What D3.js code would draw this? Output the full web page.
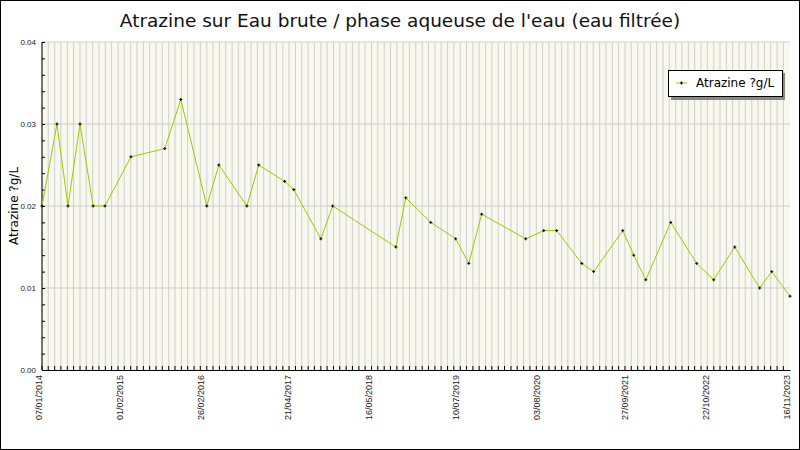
<!DOCTYPE html>
<html><head><meta charset="utf-8">
<script src="https://cdn.jsdelivr.net/npm/d3@7"></script>
<style>body{margin:0;background:#fff}</style>
</head><body>
<div id="chart"></div>
<script>
var w = 800, h = 450;
var m = {left: 42, right: 10, top: 42, bottom: 80};

var dates = ["2014-01-07","2014-03-20","2014-05-12","2014-07-09","2014-09-10","2014-11-06",
  "2015-03-11","2015-08-21","2015-11-06","2016-03-10","2016-05-07","2016-09-19","2016-11-15",
  "2017-03-20","2017-05-03","2017-09-10","2017-11-06","2018-09-06","2018-10-24","2019-02-21",
  "2019-06-21","2019-08-23","2019-10-24","2020-05-23","2020-08-18","2020-10-19","2021-02-17",
  "2021-04-15","2021-09-02","2021-10-25","2021-12-22","2022-04-21","2022-08-24","2022-11-14",
  "2023-02-23","2023-06-23","2023-08-20","2023-11-16"];
var values = [0.020,0.030,0.020,0.030,0.020,0.020,0.026,0.027,0.033,0.020,0.025,0.020,0.025,
  0.023,0.022,0.016,0.020,0.015,0.021,0.018,0.016,0.013,0.019,0.016,0.017,0.017,0.013,
  0.012,0.017,0.014,0.011,0.018,0.013,0.011,0.015,0.010,0.012,0.009];
var tickLabels = ["07/01/2014","01/02/2015","26/02/2016","21/04/2017","16/05/2018",
  "10/07/2019","03/08/2020","27/09/2021","22/10/2022","16/11/2023"];

var parse = d3.timeParse("%Y-%m-%d");
var parseFr = d3.timeParse("%d/%m/%Y");
var data = dates.map(function (d, i) { return {date: parse(d), value: values[i]}; });

var svg = d3.select("#chart").append("svg").attr("width", w).attr("height", h)
  .style("font-family", "DejaVu Sans, sans-serif");

svg.append("rect").attr("x", 0.5).attr("y", 0.5).attr("width", w - 1).attr("height", h - 1)
  .attr("fill", "#fff").attr("stroke", "#000");

var x = d3.scaleTime().domain([parse("2014-01-07"), parse("2023-11-16")])
  .range([m.left, w - m.right]);
var y = d3.scaleLinear().domain([0, 0.04]).range([h - m.bottom, m.top]);

svg.append("rect").attr("x", m.left).attr("y", m.top)
  .attr("width", w - m.right - m.left).attr("height", h - m.bottom - m.top)
  .attr("fill", "#f8f8ee");

// monthly vertical grid
var months = d3.timeMonth.range(x.domain()[0], x.domain()[1]).map(function (d, i) {
  return d3.timeDay.offset(x.domain()[0], i * 30.5);
});
svg.append("g").selectAll("line").data(months).enter().append("line")
  .attr("x1", function (d) { return x(d); }).attr("x2", function (d) { return x(d); })
  .attr("y1", m.top).attr("y2", h - m.bottom)
  .attr("stroke", "#cfcfcf").attr("stroke-width", 1);

svg.append("g").selectAll("line").data([0.01, 0.02, 0.03, 0.04]).enter().append("line")
  .attr("x1", m.left).attr("x2", w - m.right)
  .attr("y1", function (d) { return y(d); }).attr("y2", function (d) { return y(d); })
  .attr("stroke", "#cfcfcf");

// y axis
var yAxis = d3.axisLeft(y).tickValues([0, 0.01, 0.02, 0.03, 0.04]).tickFormat(d3.format(".2f")).tickSize(6);
var gy = svg.append("g").attr("transform", "translate(" + m.left + ",0)").call(yAxis);
gy.selectAll("text").attr("font-size", 8).attr("x", -6).attr("fill", "#222");
gy.select(".domain").attr("d", "M0," + y(0) + "V" + y(0.04));
gy.selectAll(".tick line").attr("x2", 3).attr("x1", 0);
svg.append("g").attr("transform", "translate(" + m.left + ",0)")
  .call(d3.axisLeft(y).ticks(16).tickFormat("").tickSize(-3))
  .select(".domain").remove();

// x axis
var xAxis = d3.axisBottom(x).tickValues(tickLabels.map(parseFr))
  .tickFormat(d3.timeFormat("%d/%m/%Y")).tickSize(0);
var gx = svg.append("g").attr("transform", "translate(0," + (h - m.bottom) + ")").call(xAxis);
gx.select(".domain").attr("stroke", "#000");
gx.selectAll("text").attr("font-size", 9).attr("fill", "#222")
  .attr("transform", "rotate(-90)").attr("text-anchor", "end")
  .attr("x", -5).attr("y", -4).attr("dy", "0.35em");
svg.append("g").selectAll("line").data(months).enter().append("line")
  .attr("x1", function (d) { return x(d); }).attr("x2", function (d) { return x(d); })
  .attr("y1", h - m.bottom).attr("y2", h - m.bottom - 4).attr("stroke", "#000");

// line
var line = d3.line().x(function (d) { return x(d.date); }).y(function (d) { return y(d.value); });
svg.append("path").datum(data).attr("d", line).attr("fill", "none")
  .attr("stroke", "#9acd00").attr("stroke-width", 1);
svg.append("g").selectAll("path").data(data).enter().append("path")
  .attr("d", function (d) { var px = x(d.date), py = y(d.value);
    return "M" + (px - 1.5) + "," + py + "H" + (px + 1.5) + "M" + px + "," + (py - 1.5) + "V" + (py + 1.5); })
  .attr("stroke", "#000").attr("stroke-width", 1);

// title and label
svg.append("text").attr("x", w / 2).attr("y", 27).attr("text-anchor", "middle")
  .attr("font-size", 18.5).attr("fill", "#111").text("Atrazine sur Eau brute / phase aqueuse de l'eau (eau filtrée)");
svg.append("text").attr("transform", "translate(18," + ((m.top + h - m.bottom) / 2) + ") rotate(-90)")
  .attr("text-anchor", "middle").attr("font-size", 12).text("Atrazine ?g/L");

// legend
svg.append("rect").attr("x", 671).attr("y", 73).attr("width", 114).attr("height", 27).attr("fill", "#888");
svg.append("rect").attr("x", 668.5).attr("y", 70.5).attr("width", 114).attr("height", 26)
  .attr("fill", "#fff").attr("stroke", "#000");
svg.append("line").attr("x1", 676).attr("x2", 687).attr("y1", 83).attr("y2", 83).attr("stroke", "#9acd00");
svg.append("path").attr("d", "M680,83H683M681.5,81.5V84.5").attr("stroke", "#000");
svg.append("text").attr("x", 696).attr("y", 87).attr("font-size", 12).text("Atrazine ?g/L");
</script>
</body></html>
